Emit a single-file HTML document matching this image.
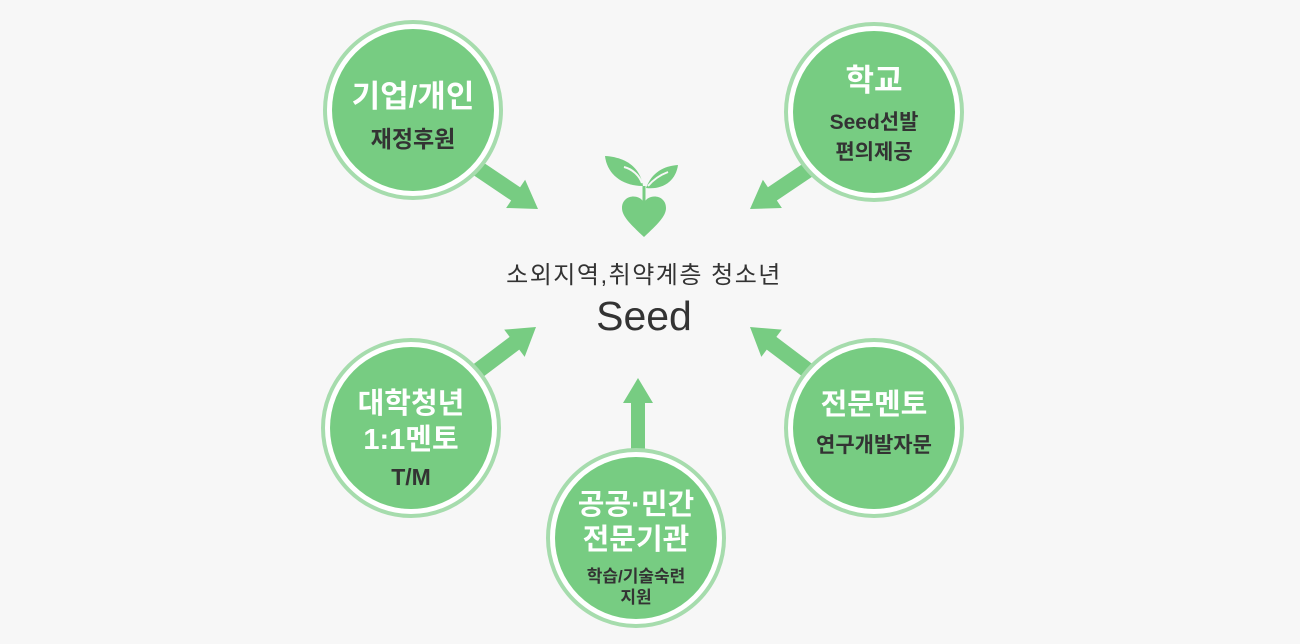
<!DOCTYPE html>
<html><head><meta charset="utf-8"><style>
html,body{margin:0;padding:0;background:#f7f7f7;}
svg{display:block;}
text{font-family:"Liberation Sans","Noto Sans CJK KR",sans-serif;text-anchor:middle;}
.w{fill:#fff;font-weight:bold;}
.d{fill:#333;font-weight:bold;}
</style></head><body>
<svg width="1300" height="644" viewBox="0 0 1300 644" xmlns="http://www.w3.org/2000/svg">
<rect width="1300" height="644" fill="#f7f7f7"/>
<defs>
<g id="c">
<circle r="88" fill="#fff" stroke="#a6dcad" stroke-width="4"/>
<circle r="81" fill="#77cc82"/>
</g>
</defs>
<g fill="#77cc82">
<g transform="translate(538,209) rotate(124)"><polygon points="0,0 17,27 8,27 8,72 -8,72 -8,27 -17,27"/></g>
<g transform="translate(750,209) rotate(-124)"><polygon points="0,0 17,27 8,27 8,72 -8,72 -8,27 -17,27"/></g>
<g transform="translate(536,327) rotate(53)"><polygon points="0,0 17,27 8,27 8,72 -8,72 -8,27 -17,27"/></g>
<g transform="translate(750,327) rotate(-53)"><polygon points="0,0 17,27 8,27 8,72 -8,72 -8,27 -17,27"/></g>
<g transform="translate(638,378)"><polygon points="0,0 15,25 7,25 7,72 -7,72 -7,25 -15,25"/></g>
</g>
<use href="#c" x="413" y="110"/>
<use href="#c" x="874" y="112"/>
<use href="#c" x="411" y="428"/>
<use href="#c" x="874" y="428"/>
<use href="#c" x="636" y="538"/>

<!-- sprout -->
<g fill="#77cc82">
<path d="M644,186 L644,204" stroke="#77cc82" stroke-width="3"/>
<path d="M644,237 C630,224 622,216 622,208 C622,199 630,195 637,197 C641,198 643,201 644,203 C645,201 647,198 651,197 C658,195 666,199 666,208 C666,216 658,224 644,237 Z"/>
<path d="M643,186 C640,166 624,157 605,156 C607,174 622,186 643,186 Z"/>
<path d="M646,188 C652,172 664,166 678,165 C676,180 664,190 646,188 Z"/>
</g>
<path d="M624,167 C632,169 639,175 642,183" stroke="#f7f7f7" stroke-width="2" fill="none"/>
<path d="M668,172 C660,175 653,180 648,186" stroke="#f7f7f7" stroke-width="2" fill="none"/>

<text x="644" y="283" font-size="24" fill="#333" letter-spacing="1.5" style="font-weight:normal">소외지역,취약계층 청소년</text>
<text x="644" y="330" font-size="41" fill="#333" style="font-weight:normal">Seed</text>

<text class="w" x="413" y="107" font-size="31">기업/개인</text>
<text class="d" x="413" y="147" font-size="23">재정후원</text>

<text class="w" x="874" y="91" font-size="31">학교</text>
<text class="d" x="874" y="129" font-size="21">Seed선발</text>
<text class="d" x="874" y="159" font-size="21">편의제공</text>

<text class="w" x="411" y="413" font-size="29">대학청년</text>
<text class="w" x="411" y="449" font-size="29">1:1멘토</text>
<text class="d" x="411" y="485" font-size="23">T/M</text>

<text class="w" x="874" y="414" font-size="29">전문멘토</text>
<text class="d" x="874" y="452" font-size="21">연구개발자문</text>

<text class="w" x="636" y="514" font-size="29">공공·민간</text>
<text class="w" x="636" y="549" font-size="29">전문기관</text>
<text class="d" x="636" y="582" font-size="17">학습/기술숙련</text>
<text class="d" x="636" y="603" font-size="17">지원</text>
</svg>
</body></html>
